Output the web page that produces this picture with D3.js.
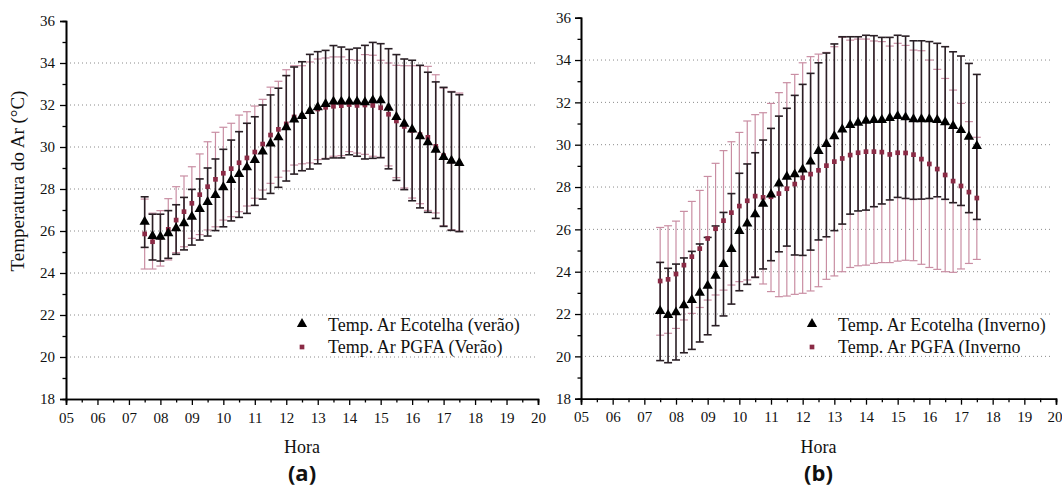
<!DOCTYPE html>
<html>
<head>
<meta charset="utf-8">
<script src="https://cdn.jsdelivr.net/npm/d3@7"></script>
<style>
  body { margin: 0; background: #fff; }
  svg { display: block; }
  text { font-family: "Liberation Serif", "Times New Roman", serif; fill: #111; }
</style>
</head>
<body>
<svg id="chart" width="1062" height="487"></svg>
<script>
// horas de medição (eixo x)
var hours = [7.5,7.75,8,8.25,8.5,8.75,9,9.25,9.5,9.75,10,10.25,10.5,10.75,11,11.25,11.5,11.75,12,12.25,
  12.5,12.75,13,13.25,13.5,13.75,14,14.25,14.5,14.75,15,15.25,15.5,15.75,16,16.25,16.5,16.75,17,17.25,17.5];

var xTicks = [5,6,7,8,9,10,11,12,13,14,15,16,17,18,19,20];
var yTicks = [18,20,22,24,26,28,30,32,34,36];
var gridValues = [20,22,24,26,28,30,32,34];

// (a) verão
var ecoVeraoMean = [26.44,25.76,25.73,25.89,26.13,26.37,26.68,27.05,27.38,27.71,28.08,28.43,28.71,29.03,29.38,29.78,30.17,30.46,30.94,31.31,
  31.47,31.71,31.89,32.05,32.16,32.16,32.16,32.16,32.13,32.22,32.22,31.87,31.43,31.11,30.83,30.51,30.22,29.87,29.52,29.35,29.24];
var ecoVeraoHi = [27.63,26.8,26.8,26.97,27.25,27.6,27.98,28.48,29.0,29.43,29.89,30.33,30.73,31.13,31.44,32.0,32.48,32.8,33.4,33.81,
  34.06,34.41,34.54,34.6,34.83,34.76,34.65,34.71,34.84,34.98,34.92,34.68,34.4,34.19,34.13,33.89,33.56,33.1,32.84,32.62,32.49];
var ecoVeraoLo = [25.22,24.62,24.57,24.7,24.89,25.1,25.33,25.57,25.76,26.02,26.2,26.48,26.65,26.84,27.22,27.52,27.79,28.08,28.38,28.71,
  28.87,28.95,29.2,29.43,29.48,29.48,29.63,29.56,29.43,29.46,29.49,28.96,28.41,27.97,27.44,27.1,26.89,26.6,26.22,26.03,25.97];
var pgfaVeraoMean = [25.86,25.49,25.7,26.08,26.52,26.92,27.32,27.73,28.11,28.46,28.75,28.97,29.25,29.48,29.76,30.14,30.57,30.84,31.1,31.43,
  31.5,31.68,31.81,31.89,31.94,31.97,32.02,31.98,32.0,31.98,31.87,31.56,31.24,30.98,30.79,30.59,30.46,30.03,29.59,29.33,29.21];
var pgfaVeraoHi = [27.52,26.85,26.97,27.54,28.11,28.62,29.06,29.67,30.25,30.7,30.94,31.13,31.52,31.68,31.95,32.27,32.85,33.13,33.68,33.87,
  33.87,34.05,34.19,34.24,34.29,34.29,34.16,34.13,34.4,34.37,34.13,34.0,33.89,33.87,33.87,33.87,33.84,33.44,32.81,32.65,32.57];
var pgfaVeraoLo = [24.19,24.19,24.33,24.62,24.97,25.25,25.65,25.83,26.05,26.2,26.52,26.68,26.92,27.19,27.56,27.95,28.27,28.56,28.86,29.14,
  29.2,29.24,29.4,29.46,29.56,29.59,29.78,29.71,29.65,29.56,29.51,29.1,28.54,28.05,27.57,27.3,26.98,26.86,26.25,26.06,26.0];

// (b) inverno
var ecoInvMean = [22.14,21.95,22.08,22.41,22.66,23.01,23.34,23.81,24.36,25.07,25.92,26.28,26.71,27.21,27.65,28.17,28.49,28.6,28.83,29.2,
  29.7,30.03,30.4,30.72,30.93,31.04,31.13,31.17,31.17,31.26,31.35,31.29,31.2,31.2,31.2,31.17,31.06,30.88,30.69,30.38,29.94];
var ecoInvHi = [24.44,24.16,24.36,24.65,24.96,25.31,25.62,26.16,26.8,27.69,28.65,29.09,29.62,30.22,30.77,31.35,31.72,32.33,32.85,33.37,
  33.87,34.33,34.76,35.1,35.1,35.1,35.17,35.15,35.07,35.07,35.17,35.13,34.91,34.91,34.87,34.79,34.63,34.39,34.19,33.84,33.32];
var ecoInvLo = [19.8,19.7,19.83,20.17,20.33,20.68,21.02,21.45,21.91,22.47,23.1,23.4,23.73,24.13,24.52,24.94,25.21,24.79,24.77,25.02,
  25.5,25.65,25.94,26.25,26.72,26.87,26.91,27.07,27.2,27.39,27.51,27.46,27.42,27.43,27.46,27.54,27.42,27.26,27.13,26.79,26.47];
var pgfaInvMean = [23.56,23.64,23.89,24.31,24.71,25.09,25.57,26.03,26.41,26.79,27.1,27.35,27.57,27.51,27.54,27.69,27.92,28.14,28.44,28.61,
  28.79,29.01,29.2,29.35,29.51,29.62,29.67,29.67,29.65,29.54,29.62,29.61,29.53,29.32,29.09,28.85,28.57,28.28,28.05,27.76,27.48];
var pgfaInvHi = [26.09,26.17,26.39,26.85,27.32,27.84,28.5,29.12,29.72,30.14,30.58,31.12,31.42,31.51,31.95,32.46,32.93,33.32,33.87,34.16,
  34.28,34.36,34.63,35.07,34.94,34.99,34.99,34.9,34.87,34.66,34.79,34.69,34.47,34.44,34.0,33.56,33.13,32.58,31.95,31.09,30.35];
var pgfaInvLo = [21.0,21.09,21.32,21.72,22.03,22.31,22.66,22.9,23.13,23.37,23.53,23.61,23.76,23.42,23.06,22.82,22.85,22.93,22.98,23.09,
  23.29,23.64,23.8,24.0,24.2,24.28,24.31,24.39,24.43,24.43,24.5,24.54,24.52,24.35,24.2,24.11,24.0,23.97,24.13,24.39,24.58];

var svg = d3.select("#chart");

var blackBar = "#2a1f25", pinkBar = "#c98ea3", pinkMark = "#8a2a45";

function drawPanel(p) {
  var x = d3.scaleLinear().domain([5, 20]).range(p.xr);
  var y = d3.scaleLinear().domain([18, 36]).range(p.yr);
  var g = svg.append("g");

  // dotted grid
  g.selectAll(".grid").data(gridValues).enter().append("line")
    .attr("x1", p.xr[0]).attr("x2", p.gridEnd)
    .attr("y1", function(d) { return y(d); }).attr("y2", function(d) { return y(d); })
    .attr("stroke", "#8a8a8a").attr("stroke-width", 1).attr("stroke-dasharray", "1,3");

  function bars(mean, hi, lo, color, w) {
    var b = g.append("g");
    b.selectAll("line.v").data(hours).enter().append("line")
      .attr("x1", function(d) { return x(d); }).attr("x2", function(d) { return x(d); })
      .attr("y1", function(d, i) { return y(hi[i]); }).attr("y2", function(d, i) { return y(lo[i]); })
      .attr("stroke", color).attr("stroke-width", w);
    [hi, lo].forEach(function(arr) {
      b.selectAll(null).data(hours).enter().append("line")
        .attr("x1", function(d) { return x(d) - 4; }).attr("x2", function(d) { return x(d) + 4; })
        .attr("y1", function(d, i) { return y(arr[i]); }).attr("y2", function(d, i) { return y(arr[i]); })
        .attr("stroke", color).attr("stroke-width", w);
    });
  }
  bars(p.pMean, p.pHi, p.pLo, pinkBar, 1.2);
  bars(p.eMean, p.eHi, p.eLo, blackBar, 1.6);

  var sq = d3.symbol().type(d3.symbolSquare).size(22);
  var tri = d3.symbol().type(d3.symbolTriangle).size(46);

  g.selectAll(".sq").data(hours).enter().append("path")
    .attr("d", sq)
    .attr("transform", function(d, i) { return "translate(" + x(d) + "," + y(p.pMean[i]) + ")"; })
    .attr("fill", pinkMark);
  g.selectAll(".tri").data(hours).enter().append("path")
    .attr("d", tri)
    .attr("transform", function(d, i) { return "translate(" + x(d) + "," + y(p.eMean[i]) + ")"; })
    .attr("fill", "#000");

  // axes
  g.append("g").attr("transform", "translate(" + p.xr[0] + ",0)")
    .call(d3.axisLeft(y).tickValues(yTicks).tickSize(6).tickPadding(p.yPad));
  g.append("g").attr("transform", "translate(" + p.xr[0] + ",0)")
    .call(d3.axisLeft(y).tickValues([19,21,23,25,27,29,31,33,35]).tickSize(3.5).tickFormat(""));
  var xAxis = g.append("g").attr("transform", "translate(0," + p.yr[0] + ")")
    .call(d3.axisBottom(x).tickValues(xTicks).tickSize(6).tickPadding(7).tickFormat(d3.format("02d")));
  g.append("g").attr("transform", "translate(0," + p.yr[0] + ")")
    .call(d3.axisBottom(x).tickValues(xTicks.slice(0, -1).map(function(d) { return d + 0.5; })).tickSize(3.5).tickFormat(""));

  g.selectAll(".domain").attr("stroke", "#000").attr("stroke-width", 1.6);
  g.selectAll(".tick line").attr("stroke", "#000").attr("stroke-width", 1.3);
  g.selectAll(".tick text").style("font-family", "Liberation Serif").style("font-size", "15px").attr("fill", "#111");

  // last label of panel b sits at the window edge: keep it inside
  if (p.xr[1] > 1050) {
    xAxis.selectAll(".tick text").filter(function(d) { return d === 20; })
      .attr("text-anchor", "end").attr("dx", "6");
  }

  // axis titles
  g.append("text").attr("x", (p.xr[0] + p.xr[1]) / 2).attr("y", 453)
    .attr("text-anchor", "middle").style("font-size", "18px").text("Hora");
  g.append("text").attr("x", (p.xr[0] + p.xr[1]) / 2).attr("y", 481)
    .attr("text-anchor", "middle")
    .style("font-family", "'Open Sans', sans-serif").style("font-weight", "bold").style("font-size", "22px")
    .text(p.tag);

  // legend
  g.append("path").attr("d", tri).attr("transform", "translate(" + p.legX + ",324)").attr("fill", "#000");
  g.append("path").attr("d", sq).attr("transform", "translate(" + p.legX + ",347)").attr("fill", pinkMark);
  g.append("text").attr("x", p.legX + 26).attr("y", 331).style("font-size", "18px").text(p.leg1);
  g.append("text").attr("x", p.legX + 26).attr("y", 353).style("font-size", "18px").text(p.leg2);
}

drawPanel({
  xr: [66, 538], yr: [399, 21], gridEnd: 538, yPad: 5,
  eMean: ecoVeraoMean, eHi: ecoVeraoHi, eLo: ecoVeraoLo,
  pMean: pgfaVeraoMean, pHi: pgfaVeraoHi, pLo: pgfaVeraoLo,
  tag: "(a)", legX: 302,
  leg1: "Temp. Ar Ecotelha (verão)", leg2: "Temp. Ar PGFA (Verão)"
});

drawPanel({
  xr: [581, 1056], yr: [398.7, 17.7], gridEnd: 1053, yPad: 4,
  eMean: ecoInvMean, eHi: ecoInvHi, eLo: ecoInvLo,
  pMean: pgfaInvMean, pHi: pgfaInvHi, pLo: pgfaInvLo,
  tag: "(b)", legX: 812,
  leg1: "Temp. Ar Ecotelha (Inverno)", leg2: "Temp. Ar PGFA (Inverno"
});

svg.append("text")
  .attr("transform", "translate(24,181) rotate(-90)")
  .attr("text-anchor", "middle")
  .style("font-size", "19px")
  .text("Temperatura do Ar (°C)");
</script>
</body>
</html>
